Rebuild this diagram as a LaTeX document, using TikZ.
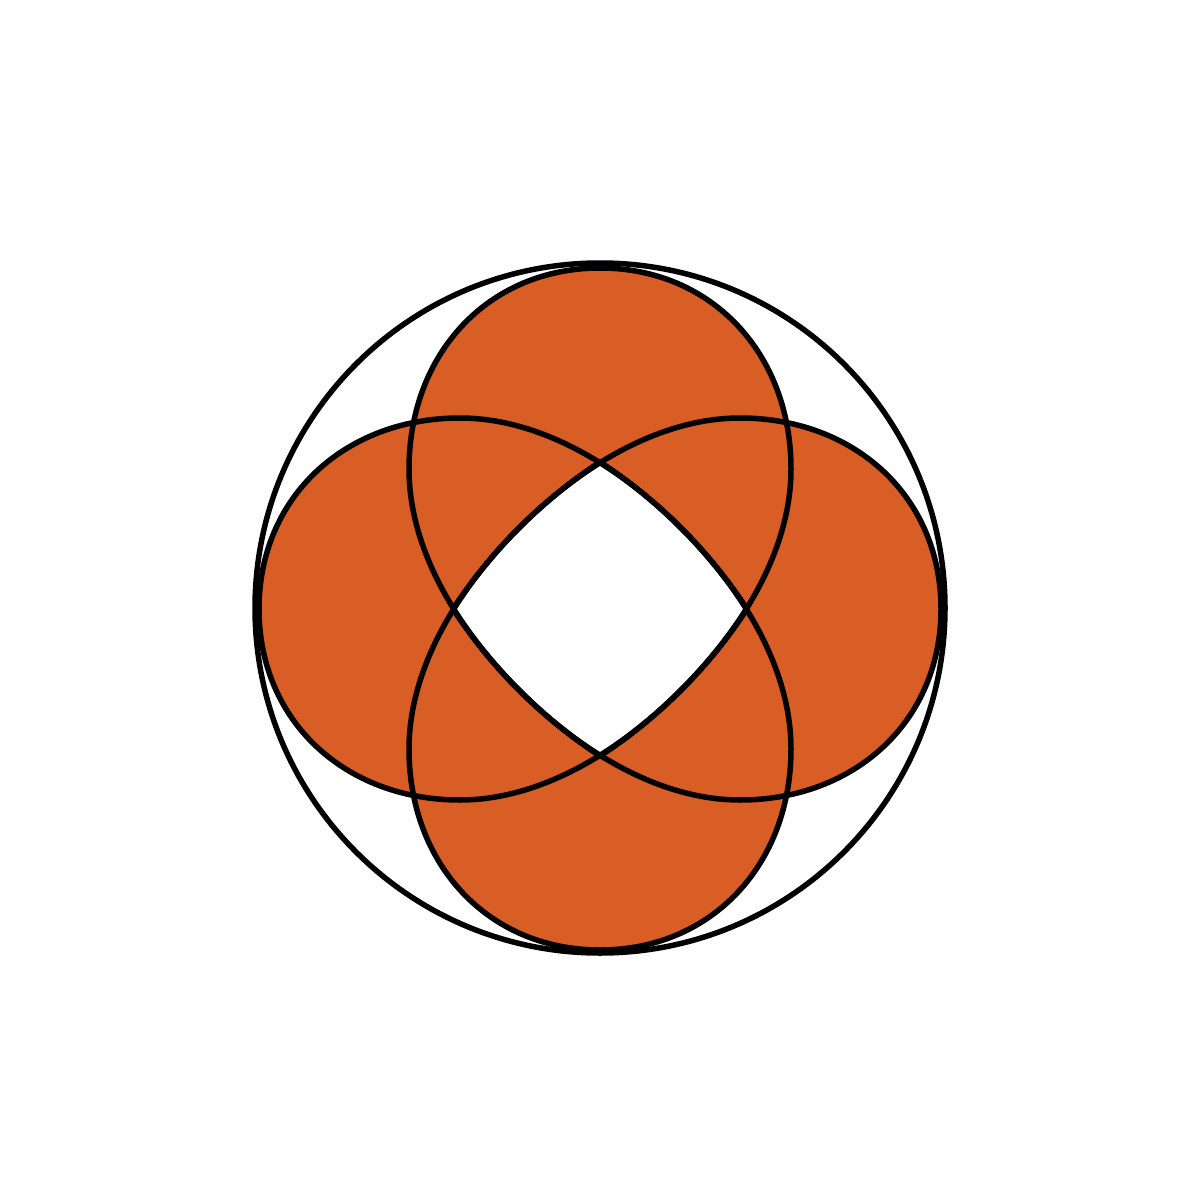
\documentclass[tikz,border=0pt]{standalone}
\definecolor{petalorange}{HTML}{D85E26}
\begin{document}
\begin{tikzpicture}[x=0.1mm,y=-0.1mm,
  outline/.style={draw=black,line width=0.55mm}]
\fill[white] (0,0) rectangle (1200,1200);
\useasboundingbox (0,0) rectangle (1200,1200);
\def\petal{(147,0) .. controls (87,-92) and (-25,-191) .. (-140,-191)
  .. controls (-255,-191) and (-341,-112) .. (-341,0)
  .. controls (-341,112) and (-255,191) .. (-140,191)
  .. controls (-25,191) and (87,92) .. (147,0) -- cycle}
\begin{scope}[shift={(600,609)}]
  \coordinate (centre) at (0,0);
  \foreach \a in {0,90,180,270} \fill[petalorange,rotate=\a] \petal;
  \begin{scope}
    \clip \petal;
    \clip[rotate=90] \petal;
    \clip[rotate=180] \petal;
    \fill[white,rotate=270] \petal;
  \end{scope}
  \foreach \a in {0,90,180,270} \draw[outline,rotate=\a] \petal;
\end{scope}
\draw[outline] (600,608) circle (345);
\end{tikzpicture}
\end{document}
